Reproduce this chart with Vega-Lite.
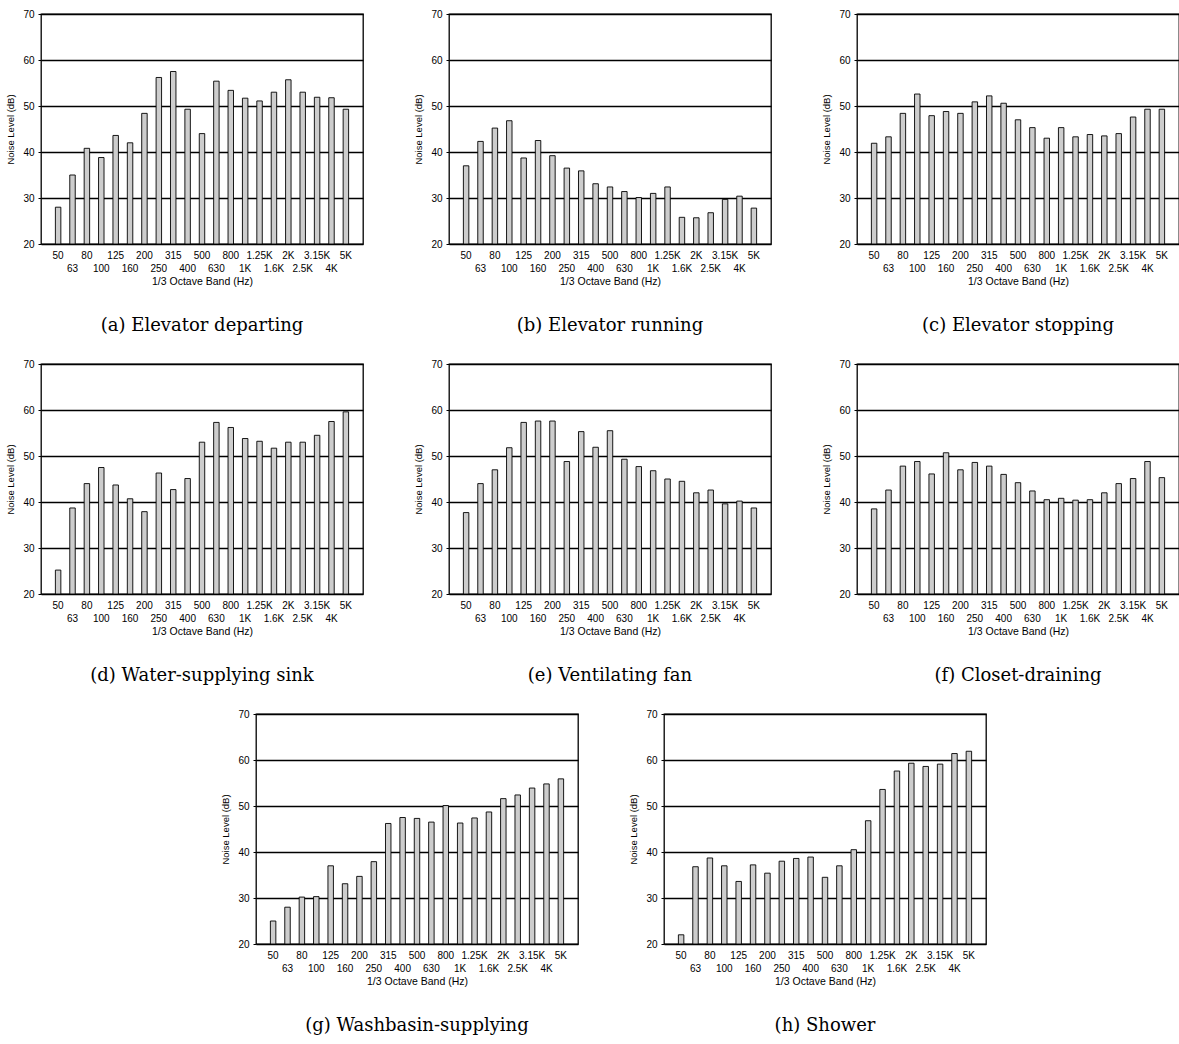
{
"$schema": "https://vega.github.io/schema/vega-lite/v6.json",
"background": "white",
"padding": {"left": 5, "top": 8, "right": 0, "bottom": 5},
"data": {"values": [
{"p":"a","b":"50","v":28.0},{"p":"a","b":"63","v":35.0},{"p":"a","b":"80","v":40.8},{"p":"a","b":"100","v":38.8},{"p":"a","b":"125","v":43.6},{"p":"a","b":"160","v":42.0},{"p":"a","b":"200","v":48.4},{"p":"a","b":"250","v":56.2},{"p":"a","b":"315","v":57.5},{"p":"a","b":"400","v":49.3},{"p":"a","b":"500","v":44.0},{"p":"a","b":"630","v":55.4},{"p":"a","b":"800","v":53.4},{"p":"a","b":"1K","v":51.7},{"p":"a","b":"1.25K","v":51.1},{"p":"a","b":"1.6K","v":53.0},{"p":"a","b":"2K","v":55.7},{"p":"a","b":"2.5K","v":53.0},{"p":"a","b":"3.15K","v":51.9},{"p":"a","b":"4K","v":51.8},{"p":"a","b":"5K","v":49.3},
{"p":"b","b":"50","v":37.0},{"p":"b","b":"63","v":42.3},{"p":"b","b":"80","v":45.2},{"p":"b","b":"100","v":46.8},{"p":"b","b":"125","v":38.7},{"p":"b","b":"160","v":42.5},{"p":"b","b":"200","v":39.2},{"p":"b","b":"250","v":36.5},{"p":"b","b":"315","v":35.9},{"p":"b","b":"400","v":33.1},{"p":"b","b":"500","v":32.4},{"p":"b","b":"630","v":31.4},{"p":"b","b":"800","v":30.1},{"p":"b","b":"1K","v":31.0},{"p":"b","b":"1.25K","v":32.4},{"p":"b","b":"1.6K","v":25.8},{"p":"b","b":"2K","v":25.7},{"p":"b","b":"2.5K","v":26.8},{"p":"b","b":"3.15K","v":29.7},{"p":"b","b":"4K","v":30.4},{"p":"b","b":"5K","v":27.8},
{"p":"c","b":"50","v":41.9},{"p":"c","b":"63","v":43.3},{"p":"c","b":"80","v":48.4},{"p":"c","b":"100","v":52.6},{"p":"c","b":"125","v":47.9},{"p":"c","b":"160","v":48.8},{"p":"c","b":"200","v":48.4},{"p":"c","b":"250","v":50.9},{"p":"c","b":"315","v":52.2},{"p":"c","b":"400","v":50.6},{"p":"c","b":"500","v":47.0},{"p":"c","b":"630","v":45.3},{"p":"c","b":"800","v":43.0},{"p":"c","b":"1K","v":45.3},{"p":"c","b":"1.25K","v":43.3},{"p":"c","b":"1.6K","v":43.8},{"p":"c","b":"2K","v":43.5},{"p":"c","b":"2.5K","v":44.0},{"p":"c","b":"3.15K","v":47.6},{"p":"c","b":"4K","v":49.3},{"p":"c","b":"5K","v":49.3},
{"p":"d","b":"50","v":25.2},{"p":"d","b":"63","v":38.7},{"p":"d","b":"80","v":44.0},{"p":"d","b":"100","v":47.5},{"p":"d","b":"125","v":43.7},{"p":"d","b":"160","v":40.7},{"p":"d","b":"200","v":37.9},{"p":"d","b":"250","v":46.3},{"p":"d","b":"315","v":42.7},{"p":"d","b":"400","v":45.1},{"p":"d","b":"500","v":53.0},{"p":"d","b":"630","v":57.3},{"p":"d","b":"800","v":56.2},{"p":"d","b":"1K","v":53.8},{"p":"d","b":"1.25K","v":53.2},{"p":"d","b":"1.6K","v":51.7},{"p":"d","b":"2K","v":53.0},{"p":"d","b":"2.5K","v":53.0},{"p":"d","b":"3.15K","v":54.5},{"p":"d","b":"4K","v":57.5},{"p":"d","b":"5K","v":59.6},
{"p":"e","b":"50","v":37.7},{"p":"e","b":"63","v":44.0},{"p":"e","b":"80","v":47.0},{"p":"e","b":"100","v":51.8},{"p":"e","b":"125","v":57.3},{"p":"e","b":"160","v":57.6},{"p":"e","b":"200","v":57.6},{"p":"e","b":"250","v":48.8},{"p":"e","b":"315","v":55.3},{"p":"e","b":"400","v":51.9},{"p":"e","b":"500","v":55.5},{"p":"e","b":"630","v":49.3},{"p":"e","b":"800","v":47.7},{"p":"e","b":"1K","v":46.8},{"p":"e","b":"1.25K","v":45.0},{"p":"e","b":"1.6K","v":44.5},{"p":"e","b":"2K","v":42.0},{"p":"e","b":"2.5K","v":42.6},{"p":"e","b":"3.15K","v":39.6},{"p":"e","b":"4K","v":40.2},{"p":"e","b":"5K","v":38.7},
{"p":"f","b":"50","v":38.5},{"p":"f","b":"63","v":42.6},{"p":"f","b":"80","v":47.8},{"p":"f","b":"100","v":48.8},{"p":"f","b":"125","v":46.1},{"p":"f","b":"160","v":50.7},{"p":"f","b":"200","v":47.0},{"p":"f","b":"250","v":48.6},{"p":"f","b":"315","v":47.8},{"p":"f","b":"400","v":46.0},{"p":"f","b":"500","v":44.2},{"p":"f","b":"630","v":42.4},{"p":"f","b":"800","v":40.5},{"p":"f","b":"1K","v":40.8},{"p":"f","b":"1.25K","v":40.4},{"p":"f","b":"1.6K","v":40.5},{"p":"f","b":"2K","v":42.0},{"p":"f","b":"2.5K","v":44.0},{"p":"f","b":"3.15K","v":45.1},{"p":"f","b":"4K","v":48.8},{"p":"f","b":"5K","v":45.3},
{"p":"g","b":"50","v":25.0},{"p":"g","b":"63","v":28.0},{"p":"g","b":"80","v":30.2},{"p":"g","b":"100","v":30.3},{"p":"g","b":"125","v":37.0},{"p":"g","b":"160","v":33.1},{"p":"g","b":"200","v":34.7},{"p":"g","b":"250","v":37.9},{"p":"g","b":"315","v":46.2},{"p":"g","b":"400","v":47.5},{"p":"g","b":"500","v":47.3},{"p":"g","b":"630","v":46.5},{"p":"g","b":"800","v":50.1},{"p":"g","b":"1K","v":46.3},{"p":"g","b":"1.25K","v":47.4},{"p":"g","b":"1.6K","v":48.7},{"p":"g","b":"2K","v":51.6},{"p":"g","b":"2.5K","v":52.4},{"p":"g","b":"3.15K","v":53.9},{"p":"g","b":"4K","v":54.8},{"p":"g","b":"5K","v":55.9},
{"p":"h","b":"50","v":22.0},{"p":"h","b":"63","v":36.8},{"p":"h","b":"80","v":38.7},{"p":"h","b":"100","v":37.0},{"p":"h","b":"125","v":33.6},{"p":"h","b":"160","v":37.2},{"p":"h","b":"200","v":35.4},{"p":"h","b":"250","v":38.0},{"p":"h","b":"315","v":38.6},{"p":"h","b":"400","v":38.9},{"p":"h","b":"500","v":34.5},{"p":"h","b":"630","v":37.0},{"p":"h","b":"800","v":40.5},{"p":"h","b":"1K","v":46.8},{"p":"h","b":"1.25K","v":53.6},{"p":"h","b":"1.6K","v":57.6},{"p":"h","b":"2K","v":59.3},{"p":"h","b":"2.5K","v":58.6},{"p":"h","b":"3.15K","v":59.1},{"p":"h","b":"4K","v":61.4},{"p":"h","b":"5K","v":61.9}
]},
"vconcat": [
{"hconcat": [
{"width":322,"height":230,"title":"(a) Elevator departing","transform":[{"filter":"datum.p == 'a'"}],"mark":{"type":"bar","fill":"#cdcdcd","stroke":"black","strokeWidth":0.9},
"encoding":{"x":{"field":"b","type":"ordinal","sort":null,"title":"1/3 Octave Band (Hz)","scale":{"domain":["50","63","80","100","125","160","200","250","315","400","500","630","800","1K","1.25K","1.6K","2K","2.5K","3.15K","4K","5K"],"paddingInner":0.62,"paddingOuter":2.4},"axis":{"labelExpr":"indexof(['63','100','160','250','400','630','1K','1.6K','2.5K','4K'], datum.value) >= 0 ? ['', datum.label] : datum.label"}},
"y":{"field":"v","type":"quantitative","title":"Noise Level (dB)","scale":{"domain":[20,70],"zero":false,"nice":false}},"y2":{"datum":20}}},
{"width":322,"height":230,"title":"(b) Elevator running","transform":[{"filter":"datum.p == 'b'"}],"mark":{"type":"bar","fill":"#cdcdcd","stroke":"black","strokeWidth":0.9},
"encoding":{"x":{"field":"b","type":"ordinal","sort":null,"title":"1/3 Octave Band (Hz)","scale":{"domain":["50","63","80","100","125","160","200","250","315","400","500","630","800","1K","1.25K","1.6K","2K","2.5K","3.15K","4K","5K"],"paddingInner":0.62,"paddingOuter":2.4},"axis":{"labelExpr":"indexof(['63','100','160','250','400','630','1K','1.6K','2.5K','4K'], datum.value) >= 0 ? ['', datum.label] : datum.label"}},
"y":{"field":"v","type":"quantitative","title":"Noise Level (dB)","scale":{"domain":[20,70],"zero":false,"nice":false}},"y2":{"datum":20}}},
{"width":322,"height":230,"title":"(c) Elevator stopping","transform":[{"filter":"datum.p == 'c'"}],"mark":{"type":"bar","fill":"#cdcdcd","stroke":"black","strokeWidth":0.9},
"encoding":{"x":{"field":"b","type":"ordinal","sort":null,"title":"1/3 Octave Band (Hz)","scale":{"domain":["50","63","80","100","125","160","200","250","315","400","500","630","800","1K","1.25K","1.6K","2K","2.5K","3.15K","4K","5K"],"paddingInner":0.62,"paddingOuter":2.4},"axis":{"labelExpr":"indexof(['63','100','160','250','400','630','1K','1.6K','2.5K','4K'], datum.value) >= 0 ? ['', datum.label] : datum.label"}},
"y":{"field":"v","type":"quantitative","title":"Noise Level (dB)","scale":{"domain":[20,70],"zero":false,"nice":false}},"y2":{"datum":20}}}
], "spacing": 86, "bounds": "flush"},
{"hconcat": [
{"width":322,"height":230,"title":"(d) Water-supplying sink","transform":[{"filter":"datum.p == 'd'"}],"mark":{"type":"bar","fill":"#cdcdcd","stroke":"black","strokeWidth":0.9},
"encoding":{"x":{"field":"b","type":"ordinal","sort":null,"title":"1/3 Octave Band (Hz)","scale":{"domain":["50","63","80","100","125","160","200","250","315","400","500","630","800","1K","1.25K","1.6K","2K","2.5K","3.15K","4K","5K"],"paddingInner":0.62,"paddingOuter":2.4},"axis":{"labelExpr":"indexof(['63','100','160','250','400','630','1K','1.6K','2.5K','4K'], datum.value) >= 0 ? ['', datum.label] : datum.label"}},
"y":{"field":"v","type":"quantitative","title":"Noise Level (dB)","scale":{"domain":[20,70],"zero":false,"nice":false}},"y2":{"datum":20}}},
{"width":322,"height":230,"title":"(e) Ventilating fan","transform":[{"filter":"datum.p == 'e'"}],"mark":{"type":"bar","fill":"#cdcdcd","stroke":"black","strokeWidth":0.9},
"encoding":{"x":{"field":"b","type":"ordinal","sort":null,"title":"1/3 Octave Band (Hz)","scale":{"domain":["50","63","80","100","125","160","200","250","315","400","500","630","800","1K","1.25K","1.6K","2K","2.5K","3.15K","4K","5K"],"paddingInner":0.62,"paddingOuter":2.4},"axis":{"labelExpr":"indexof(['63','100','160','250','400','630','1K','1.6K','2.5K','4K'], datum.value) >= 0 ? ['', datum.label] : datum.label"}},
"y":{"field":"v","type":"quantitative","title":"Noise Level (dB)","scale":{"domain":[20,70],"zero":false,"nice":false}},"y2":{"datum":20}}},
{"width":322,"height":230,"title":"(f) Closet-draining","transform":[{"filter":"datum.p == 'f'"}],"mark":{"type":"bar","fill":"#cdcdcd","stroke":"black","strokeWidth":0.9},
"encoding":{"x":{"field":"b","type":"ordinal","sort":null,"title":"1/3 Octave Band (Hz)","scale":{"domain":["50","63","80","100","125","160","200","250","315","400","500","630","800","1K","1.25K","1.6K","2K","2.5K","3.15K","4K","5K"],"paddingInner":0.62,"paddingOuter":2.4},"axis":{"labelExpr":"indexof(['63','100','160','250','400','630','1K','1.6K','2.5K','4K'], datum.value) >= 0 ? ['', datum.label] : datum.label"}},
"y":{"field":"v","type":"quantitative","title":"Noise Level (dB)","scale":{"domain":[20,70],"zero":false,"nice":false}},"y2":{"datum":20}}}
], "spacing": 86, "bounds": "flush"},
{"hconcat": [
{"width":129,"height":230,"view":{"stroke":null},"transform":[{"filter":"false"}],"mark":"point","encoding":{}},
{"width":322,"height":230,"title":"(g) Washbasin-supplying","transform":[{"filter":"datum.p == 'g'"}],"mark":{"type":"bar","fill":"#cdcdcd","stroke":"black","strokeWidth":0.9},
"encoding":{"x":{"field":"b","type":"ordinal","sort":null,"title":"1/3 Octave Band (Hz)","scale":{"domain":["50","63","80","100","125","160","200","250","315","400","500","630","800","1K","1.25K","1.6K","2K","2.5K","3.15K","4K","5K"],"paddingInner":0.62,"paddingOuter":2.4},"axis":{"labelExpr":"indexof(['63','100','160','250','400','630','1K','1.6K','2.5K','4K'], datum.value) >= 0 ? ['', datum.label] : datum.label"}},
"y":{"field":"v","type":"quantitative","title":"Noise Level (dB)","scale":{"domain":[20,70],"zero":false,"nice":false}},"y2":{"datum":20}}},
{"width":322,"height":230,"title":"(h) Shower","transform":[{"filter":"datum.p == 'h'"}],"mark":{"type":"bar","fill":"#cdcdcd","stroke":"black","strokeWidth":0.9},
"encoding":{"x":{"field":"b","type":"ordinal","sort":null,"title":"1/3 Octave Band (Hz)","scale":{"domain":["50","63","80","100","125","160","200","250","315","400","500","630","800","1K","1.25K","1.6K","2K","2.5K","3.15K","4K","5K"],"paddingInner":0.62,"paddingOuter":2.4},"axis":{"labelExpr":"indexof(['63','100','160','250','400','630','1K','1.6K','2.5K','4K'], datum.value) >= 0 ? ['', datum.label] : datum.label"}},
"y":{"field":"v","type":"quantitative","title":"Noise Level (dB)","scale":{"domain":[20,70],"zero":false,"nice":false}},"y2":{"datum":20}}}
], "spacing": 86, "bounds": "flush"}
],
"spacing": 22,
"config": {
"font": "Liberation Sans",
"view": {"stroke": "black", "strokeWidth": 1.3},
"axisX": {"labelAngle": 0, "ticks": false, "domain": false, "labelFontSize": 10, "labelColor": "black", "labelOverlap": false, "labelFlush": false, "labelPadding": 6, "labelLineHeight": 13, "titleFontSize": 10.5, "titleFontWeight": "normal", "titleColor": "black", "titlePadding": 3},
"axisY": {"values": [20,30,40,50,60,70], "grid": true, "gridColor": "black", "gridWidth": 1.3, "gridOpacity": 1, "domain": false, "tickColor": "black", "tickSize": 3, "labelFontSize": 10, "labelColor": "black", "labelPadding": 4, "titleFontSize": 9.5, "titleFontWeight": "normal", "titleColor": "black", "titlePadding": 7},
"title": {"orient": "bottom", "font": "DejaVu Serif", "fontSize": 18, "fontWeight": "normal", "color": "black", "offset": 30}
}
}
